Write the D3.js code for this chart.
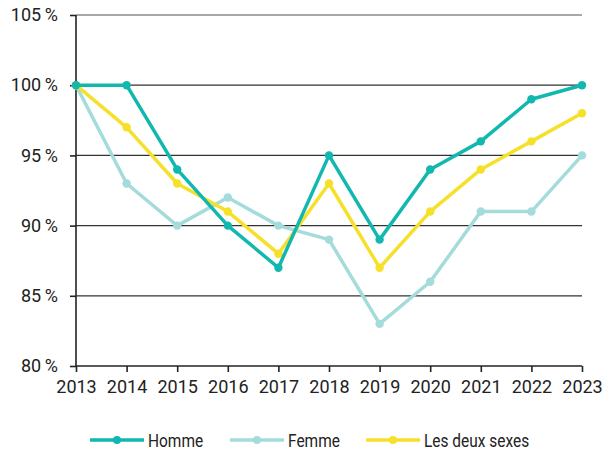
<!DOCTYPE html>
<html><head><meta charset="utf-8">
<script src="https://d3js.org/d3.v7.min.js"></script>
<style>body{margin:0;background:#fff}svg{display:block}text{font-family:Roboto,"Liberation Sans",sans-serif;fill:#222}</style>
</head><body><svg width="603" height="455"></svg>
<script>
const years = [2013,2014,2015,2016,2017,2018,2019,2020,2021,2022,2023];
const homme = [100,100,94,90,87,95,89,94,96,99,100];
const femme = [100,93,90,92,90,89,83,86,91,91,95];
const deux = [100,97,93,91,88,93,87,91,94,96,98];
const yTicks = [80,85,90,95,100,105];
const seriesNames = ["Homme","Femme","Les deux sexes"];
const colors = ["#12b8b0","#a4dbdb","#f6e02a"];

const svg = d3.select("svg");
const x = d3.scaleLinear().domain([2013,2023]).range([76,582]);
const y = d3.scaleLinear().domain([80,105]).range([366,15]);

svg.append("g").selectAll("line").data(yTicks.filter(d=>d>80)).join("line")
  .attr("x1",76).attr("x2",582).attr("y1",d=>y(d)).attr("y2",d=>y(d))
  .attr("stroke",d=>d===105?"#8a8a8a":"#333").attr("stroke-width",1.3);

const yAxis = svg.append("g").attr("transform","translate(76,0)")
  .call(d3.axisLeft(y).tickValues(yTicks).tickSize(6).tickPadding(12).tickFormat(d=>d+"\u2009%"));
const xAxis = svg.append("g").attr("transform","translate(0,366)")
  .call(d3.axisBottom(x).tickValues(years).tickSize(6).tickPadding(8).tickFormat(d3.format("d")));
[yAxis,xAxis].forEach(a=>{
  a.selectAll("path,line").attr("stroke","#222").attr("stroke-width",1.6);
  a.selectAll("text").attr("font-size",18).attr("fill","#222").attr("font-family","Roboto");
});
yAxis.select(".domain").attr("d","M0,15V366");
xAxis.select(".domain").attr("d","M76,0H582");

const data = [homme,femme,deux];
const order = [1,2,0];
const line = d3.line().x((d,i)=>x(years[i])).y(d=>y(d));
order.forEach(k=>{
  const g = svg.append("g");
  g.append("path").datum(data[k]).attr("d",line).attr("fill","none")
    .attr("stroke",colors[k]).attr("stroke-width",3.5).attr("stroke-linejoin","round");
  g.selectAll("circle").data(data[k]).join("circle")
    .attr("cx",(d,i)=>x(years[i])).attr("cy",d=>y(d)).attr("r",4.2).attr("fill",colors[k]);
});

const lx = [90,230,366];
const leg = svg.append("g");
seriesNames.forEach((n,i)=>{
  const g = leg.append("g").attr("transform",`translate(${lx[i]},440)`);
  g.append("line").attr("x1",0).attr("x2",54).attr("stroke",colors[i]).attr("stroke-width",3.5);
  g.append("circle").attr("cx",27).attr("r",4).attr("fill",colors[i]);
  g.append("text").attr("transform","translate(58,6.5) scale(0.86,1)").attr("font-size",18).text(n);
});
</script></body></html>
